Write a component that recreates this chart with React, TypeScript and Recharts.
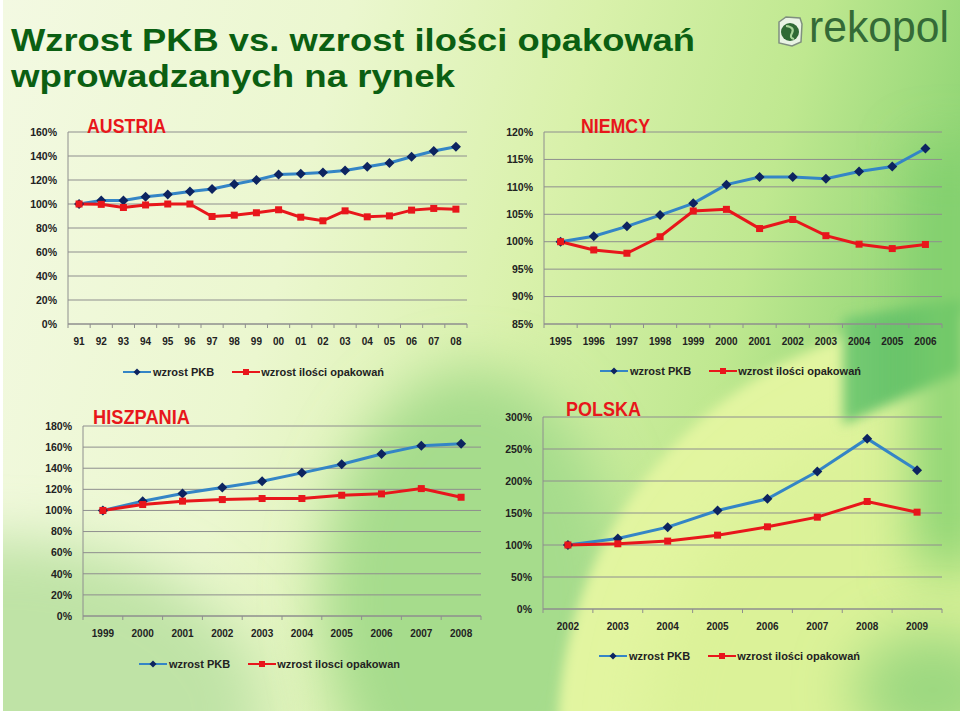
import React from 'react'
import { LineChart, Line, XAxis, YAxis, CartesianGrid } from 'recharts'

const FONT = '"Liberation Sans", Arial, Helvetica, sans-serif'
const BLUE = '#3485c6'
const NAVY = '#0d2460'
const RED = '#e8161b'
const GRID = '#8e8e8e'

// Austria
const atYears = ['91', '92', '93', '94', '95', '96', '97', '98', '99', '00', '01', '02', '03', '04', '05', '06', '07', '08']
const atPkb = [100, 103, 103, 106, 108, 110.5, 112.5, 116.5, 120, 124.5, 125.2, 126.3, 128, 131, 134.2, 139.4, 144.2, 147.7]
const atPack = [100, 99.7, 97.1, 99.2, 100, 100, 89.6, 90.7, 92.7, 95.2, 89, 86, 94.3, 89.3, 90.1, 94.9, 96.3, 95.7]
const atTicks = [0, 20, 40, 60, 80, 100, 120, 140, 160]

// Niemcy
const deYears = ['1995', '1996', '1997', '1998', '1999', '2000', '2001', '2002', '2003', '2004', '2005', '2006']
const dePkb = [100, 101, 102.8, 104.85, 107, 110.4, 111.8, 111.8, 111.5, 112.8, 113.7, 117]
const dePack = [100, 98.5, 97.9, 100.9, 105.6, 105.9, 102.4, 104.05, 101.1, 99.55, 98.75, 99.5]
const deTicks = [85, 90, 95, 100, 105, 110, 115, 120]

// Hiszpania
const esYears = ['1999', '2000', '2001', '2002', '2003', '2004', '2005', '2006', '2007', '2008']
const esPkb = [100, 108.8, 116, 121.7, 127.7, 135.6, 143.8, 153.5, 161.4, 163.3]
const esPack = [100, 105.6, 108.8, 110.3, 111.3, 111.3, 114.4, 115.7, 120.7, 112.5]
const esTicks = [0, 20, 40, 60, 80, 100, 120, 140, 160, 180]

// Polska
const plYears = ['2002', '2003', '2004', '2005', '2006', '2007', '2008', '2009']
const plPkb = [100, 110.2, 127.9, 153.9, 172.1, 214.8, 266.2, 216.8]
const plPack = [100, 101.9, 106.1, 115.4, 128.4, 143.5, 168, 151.3]
const plTicks = [0, 50, 100, 150, 200, 250, 300]

const Diamond = ({ cx, cy, r = 5 }: any) => (
  <path d={`M${cx},${cy - r}L${cx + r},${cy}L${cx},${cy + r}L${cx - r},${cy}Z`} fill={NAVY} />
)

const Square = ({ cx, cy, s = 7 }: any) => (
  <rect x={cx - s / 2} y={cy - s / 2} width={s} height={s} fill={RED} />
)

function SvgText({ x, y, text, size, width, color, weight = 'normal', family = FONT }: any) {
  return (
    <svg style={{ position: 'absolute', left: 0, top: 0, overflow: 'visible' }} width={1} height={1}>
      <text
        x={x}
        y={y}
        fontSize={size}
        fontFamily={family}
        fontWeight={weight}
        fill={color}
        textLength={width}
        lengthAdjust="spacingAndGlyphs"
      >
        {text}
      </text>
    </svg>
  )
}

function Legend({ x, y, packLabel }: { x: number; y: number; packLabel: string }) {
  const txt = { fontFamily: FONT, fontSize: 11, fontWeight: 'bold' as const, color: '#222', lineHeight: '14px' }
  return (
    <div style={{ position: 'absolute', left: x, top: y - 7, display: 'flex', alignItems: 'center', whiteSpace: 'nowrap' }}>
      <svg width={28} height={10} style={{ marginRight: 2 }}>
        <line x1={0} y1={5} x2={28} y2={5} stroke={BLUE} strokeWidth={2} />
        <Diamond cx={14} cy={5} r={3.5} />
      </svg>
      <span style={txt}>wzrost PKB</span>
      <svg width={28} height={10} style={{ marginLeft: 18, marginRight: 1 }}>
        <line x1={0} y1={5} x2={28} y2={5} stroke={RED} strokeWidth={2} />
        <Square cx={14} cy={5} s={6} />
      </svg>
      <span style={txt}>{packLabel}</span>
    </div>
  )
}

interface CountryProps {
  years: string[]
  pkb: number[]
  pack: number[]
  yTicks: number[]
  left: number
  top: number
  width: number
  height: number
  marginTop: number
  marginRight: number
  marginBottom: number
  yWidth: number
}

function CountryChart(p: CountryProps) {
  const n = p.years.length
  const data = p.years.map((y, i) => ({ i, year: y, pkb: p.pkb[i], pack: p.pack[i] }))
  const plotW = p.width - p.yWidth - p.marginRight
  const half = plotW / n / 2
  const plotBottom = p.height - p.marginBottom - 30

  const renderTick = (props: any) => {
    const { x, payload, index } = props
    return (
      <g key={`t-${index}`}>
        <line x1={x - half} y1={plotBottom} x2={x - half} y2={plotBottom + 4} stroke={GRID} />
        {payload.value === n - 1 && (
          <line x1={x + half} y1={plotBottom} x2={x + half} y2={plotBottom + 4} stroke={GRID} />
        )}
        <text x={x} y={plotBottom + 21} textAnchor="middle" fontSize={10} fontWeight="bold" fontFamily={FONT} fill="#222">
          {p.years[payload.value]}
        </text>
      </g>
    )
  }

  return (
    <div style={{ position: 'absolute', left: p.left, top: p.top }}>
      <LineChart
        width={p.width}
        height={p.height}
        data={data}
        margin={{ top: p.marginTop, right: p.marginRight, bottom: p.marginBottom, left: 0 }}
      >
        <CartesianGrid vertical={false} stroke={GRID} />
        <XAxis
          type="number"
          dataKey="i"
          domain={[-0.5, n - 0.5]}
          ticks={data.map((d) => d.i)}
          interval={0}
          height={30}
          axisLine={{ stroke: GRID }}
          tickLine={false}
          tick={renderTick}
        />
        <YAxis
          type="number"
          domain={[p.yTicks[0], p.yTicks[p.yTicks.length - 1]]}
          ticks={p.yTicks}
          interval={0}
          width={p.yWidth}
          axisLine={{ stroke: GRID }}
          tickLine={false}
          tickSize={0}
          tickMargin={11}
          tickFormatter={(v: number) => `${v}%`}
          tick={{ fontSize: 10.5, fontWeight: 'bold', fontFamily: FONT, fill: '#222' }}
        />
        <Line
          type="linear"
          dataKey="pkb"
          stroke={BLUE}
          strokeWidth={3}
          isAnimationActive={false}
          dot={(d: any) => <Diamond key={`d-${d.index}`} cx={d.cx} cy={d.cy} />}
          activeDot={false}
        />
        <Line
          type="linear"
          dataKey="pack"
          stroke={RED}
          strokeWidth={3}
          isAnimationActive={false}
          dot={(d: any) => <Square key={`s-${d.index}`} cx={d.cx} cy={d.cy} />}
          activeDot={false}
        />
      </LineChart>
    </div>
  )
}

function Logo() {
  return (
    <svg style={{ position: 'absolute', left: 0, top: 0, overflow: 'visible' }} width={1} height={1}>
      <path d="M779,22 L786,17 L800,18 L802,24 L801,42 L792,46 L779,43 Z" fill="#e9f3e4" stroke="#7f8f7f" strokeWidth={1.5} />
      <circle cx={790} cy={32} r={9} fill="#2f6a35" />
      <path d="M786,26 Q795,27 792,33 Q789,38 794,39" fill="none" stroke="#a9d69a" strokeWidth={2.2} />
    </svg>
  )
}

// decorative slide background (soft green swooshes)
function Backdrop() {
  const region = { x: -100, y: -100, width: 1160, height: 920, filterUnits: 'userSpaceOnUse' as const }
  return (
    <svg style={{ position: 'absolute', left: 3, top: 0 }} width={957} height={711}>
      <defs>
        <linearGradient id="base" x1="0" y1="0" x2="1" y2="0.2">
          <stop offset="0" stopColor="#f3f9e2" />
          <stop offset="0.35" stopColor="#ebf7cf" />
          <stop offset="0.6" stopColor="#d9f1ab" />
          <stop offset="0.82" stopColor="#bfe890" />
          <stop offset="1" stopColor="#93d676" />
        </linearGradient>
        <linearGradient id="wedge" x1="0" y1="0" x2="1" y2="0">
          <stop offset="0" stopColor="#79cc74" />
          <stop offset="1" stopColor="#4cb65e" />
        </linearGradient>
        <filter id="soft" {...region}>
          <feGaussianBlur stdDeviation="28" />
        </filter>
        <filter id="soft2" {...region}>
          <feGaussianBlur stdDeviation="6" />
        </filter>
      </defs>
      <rect x={0} y={0} width={957} height={711} fill="url(#base)" />
      <ellipse cx={0} cy={711} rx={260} ry={170} fill="#bfe3a6" filter="url(#soft)" />
      <ellipse cx={470} cy={600} rx={150} ry={230} fill="#a6dc8c" filter="url(#soft)" />
      <ellipse cx={975} cy={735} rx={420} ry={420} fill="#e2f5a0" filter="url(#soft2)" />
      <ellipse cx={975} cy={735} rx={330} ry={330} fill="#dbf298" filter="url(#soft)" />
      <path d="M840,318 L957,300 L957,372 L840,425 Z" fill="url(#wedge)" filter="url(#soft2)" />
      <rect x={915} y={150} width={60} height={420} fill="#7fcf6d" filter="url(#soft)" />
      <ellipse cx={930} cy={690} rx={80} ry={60} fill="#9cd880" filter="url(#soft)" />
    </svg>
  )
}

export default function App() {
  return (
    <div
      style={{
        position: 'absolute',
        left: 0,
        top: 0,
        width: 960,
        height: 716,
        overflow: 'hidden',
        background: '#ffffff',
      }}
    >
      <Backdrop />

      <SvgText x={11} y={51} text="Wzrost PKB vs. wzrost ilości opakowań" size={32} width={684} color="#0b5f12" weight="bold" />
      <SvgText x={11} y={87} text="wprowadzanych na rynek" size={32} width={444} color="#0b5f12" weight="bold" />

      <Logo />
      <SvgText x={809} y={42} text="rekopol" size={45} width={140} color="#346a37" />

      <CountryChart
        years={atYears}
        pkb={atPkb}
        pack={atPack}
        yTicks={atTicks}
        left={0}
        top={100}
        width={480}
        height={260}
        marginTop={32}
        marginRight={13}
        marginBottom={6}
        yWidth={68}
      />
      <CountryChart
        years={deYears}
        pkb={dePkb}
        pack={dePack}
        yTicks={deTicks}
        left={480}
        top={100}
        width={480}
        height={260}
        marginTop={32}
        marginRight={18}
        marginBottom={6}
        yWidth={64}
      />
      <CountryChart
        years={esYears}
        pkb={esPkb}
        pack={esPack}
        yTicks={esTicks}
        left={0}
        top={400}
        width={490}
        height={260}
        marginTop={26}
        marginRight={9}
        marginBottom={14}
        yWidth={83}
      />
      <CountryChart
        years={plYears}
        pkb={plPkb}
        pack={plPack}
        yTicks={plTicks}
        left={480}
        top={400}
        width={480}
        height={260}
        marginTop={17}
        marginRight={18}
        marginBottom={21}
        yWidth={63}
      />

      <SvgText x={87} y={133} text="AUSTRIA" size={19.5} width={79} color={RED} weight="bold" />
      <SvgText x={581} y={133} text="NIEMCY" size={19.5} width={69} color={RED} weight="bold" />
      <SvgText x={93} y={424} text="HISZPANIA" size={19.5} width={97} color={RED} weight="bold" />
      <SvgText x={566} y={416} text="POLSKA" size={19.5} width={75} color={RED} weight="bold" />

      <Legend x={123} y={372} packLabel="wzrost ilości opakowań" />
      <Legend x={600} y={371} packLabel="wzrost ilości opakowań" />
      <Legend x={139} y={664} packLabel="wzrost ilosci opakowan" />
      <Legend x={599} y={656} packLabel="wzrost ilości opakowań" />
    </div>
  )
}
